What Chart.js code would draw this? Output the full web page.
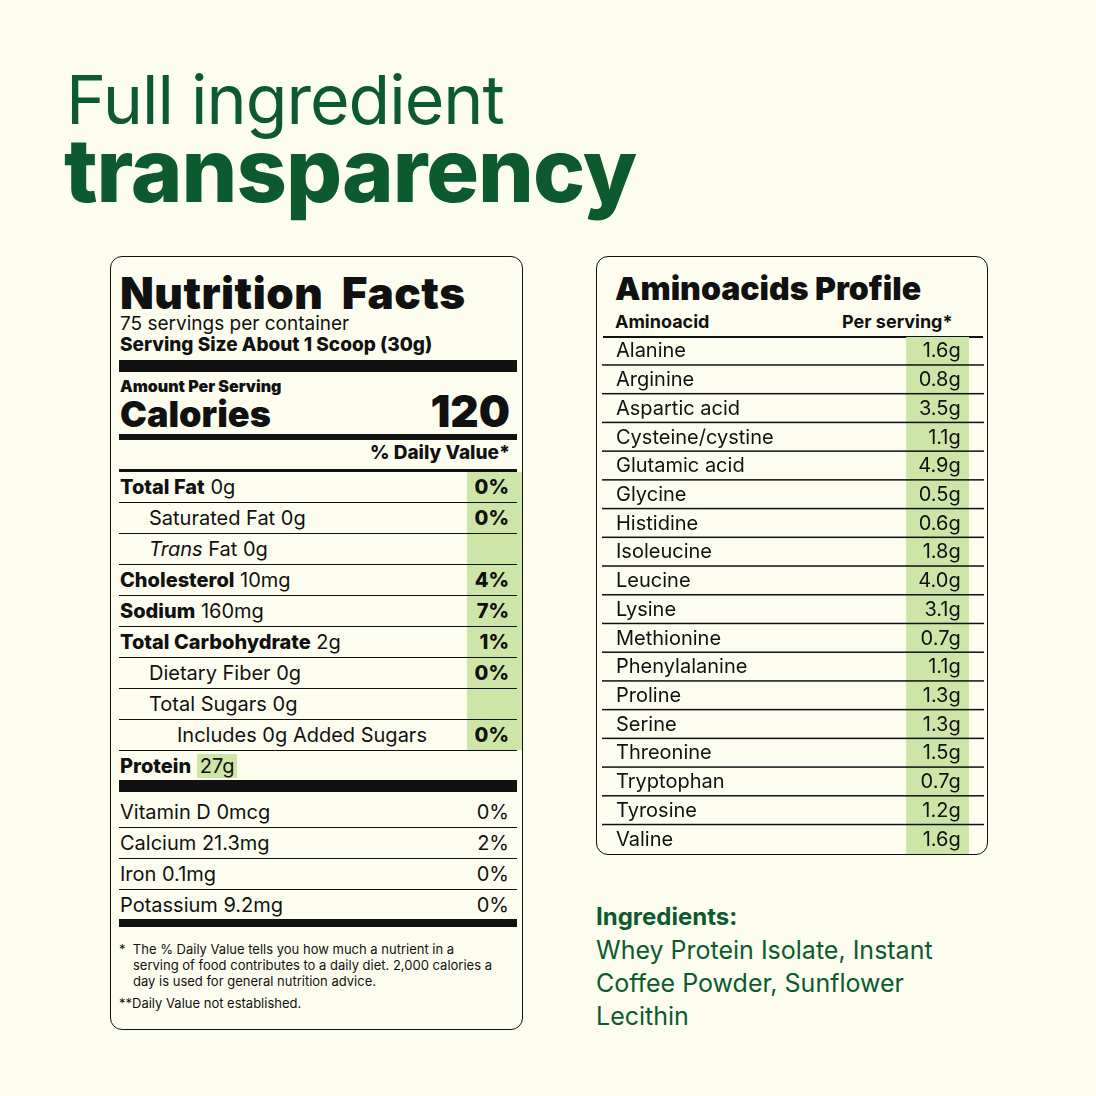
<!DOCTYPE html>
<html>
<head>
<meta charset="utf-8">
<script src="https://cdn.jsdelivr.net/npm/chart.js@4"></script>
<style>
  body { margin:0; background:#fcfdef; font-family: Inter, "Noto Sans", sans-serif; color:#111; }
  #page { position:relative; width:1096px; height:1096px; overflow:hidden; }
  .green { color:#0d5a2e; }
  .abs { position:absolute; line-height:1.1; }
  .box { position:absolute; border:1.5px solid #111; border-radius:12px; box-sizing:border-box; }
  .row { position:absolute; left:8px; width:398px; height:31px; border-bottom:1.5px solid #111; font-size:20px; line-height:31px; box-sizing:border-box; }
  .row b { font-weight:800; }
  .row .dv { position:absolute; right:0; top:0; width:54px; height:30px; text-align:right; padding-right:8px; box-sizing:border-box; font-weight:800; }
  .bar { position:absolute; left:8px; width:398px; background:#111; }
</style>
</head>
<body>
<div id="page">
  <div class="abs green" style="left:66px;top:62px;font-size:68px;font-weight:400;letter-spacing:-1px;">Full ingredient</div>
  <div class="abs green" style="left:64px;top:122px;font-size:88px;font-weight:800;letter-spacing:-1px;">transparency</div>

  <!-- Nutrition facts panel -->
  <div class="box" id="nf" style="left:110px;top:256px;width:413px;height:774px;"></div>

  <!-- Amino acids panel -->
  <div class="box" style="left:596px;top:256px;width:392px;height:599px;">
    <div class="abs" style="left:18px;top:14px;font-size:32px;font-weight:900;">Aminoacids Profile</div>
    <div class="abs" style="left:18px;top:55px;font-size:18px;font-weight:700;">Aminoacid</div>
    <div class="abs" style="left:245px;top:55px;font-size:18px;font-weight:700;">Per serving*</div>
    <div class="abs" style="left:6px;top:79px;width:380px;height:1.5px;background:#111;"></div>
  </div>
  <div class="abs" style="left:602px;top:337px;width:382px;height:517px;"><canvas id="amino"></canvas></div>

  <div class="abs green" style="left:596px;top:904px;font-size:24px;font-weight:700;">Ingredients:</div>
  <div class="abs green" style="left:596px;top:934px;font-size:25px;line-height:33px;width:380px;">Whey Protein Isolate, Instant Coffee Powder, Sunflower Lecithin</div>
</div>
<script>
// amino acid profile data
const aminoNames = ['Alanine','Arginine','Aspartic acid','Cysteine/cystine','Glutamic acid','Glycine','Histidine','Isoleucine','Leucine','Lysine','Methionine','Phenylalanine','Proline','Serine','Threonine','Tryptophan','Tyrosine','Valine'];
const aminoGrams = [1.6, 0.8, 3.5, 1.1, 4.9, 0.5, 0.6, 1.8, 4.0, 3.1, 0.7, 1.1, 1.3, 1.3, 1.5, 0.7, 1.2, 1.6];

// nutrition facts rows: [bold label, plain label, indent level, % daily value]
const nfLabels = [
  ['Total Fat', ' 0g', 0, '0%'],
  ['', 'Saturated Fat 0g', 1, '0%'],
  ['', '<i>Trans</i> Fat 0g', 1, ''],
  ['Cholesterol', ' 10mg', 0, '4%'],
  ['Sodium', ' 160mg', 0, '7%'],
  ['Total Carbohydrate', ' 2g', 0, '1%'],
  ['', 'Dietary Fiber 0g', 1, '0%'],
  ['', 'Total Sugars 0g', 1, ''],
  ['', 'Includes 0g Added Sugars', 2, '0%']
];
const vitLabels = ['Vitamin D 0mcg', 'Calcium 21.3mg', 'Iron 0.1mg', 'Potassium 9.2mg'];
const vitValues = ['0%', '2%', '0%', '0%'];

// build the nutrition panel
const nf = document.getElementById('nf');
let html = `
  <div class="abs" style="left:9px;top:12px;font-size:44px;font-weight:900;letter-spacing:0.5px;">Nutrition&nbsp; Facts</div>
  <div class="abs" style="left:9px;top:57px;font-size:19px;">75 servings per container</div>
  <div class="abs" style="left:9px;top:78px;font-size:19px;font-weight:800;">Serving Size About 1 Scoop (30g)</div>
  <div class="bar" style="top:103px;height:12px;"></div>
  <div class="abs" style="left:9px;top:121px;font-size:16px;font-weight:900;">Amount Per Serving</div>
  <div class="abs" style="left:9px;top:138px;font-size:36px;font-weight:900;">Calories</div>
  <div class="abs" style="right:12px;top:130px;font-size:44px;font-weight:900;">120</div>
  <div class="bar" style="top:177px;height:6px;"></div>
  <div class="abs" style="right:12px;top:186px;font-size:19px;font-weight:800;">% Daily Value*</div>
  <div class="bar" style="top:212px;height:3px;"></div>
  <div class="abs" style="left:356px;top:215px;width:55px;height:278px;background:#cde6a8;"></div>`;
nfLabels.forEach((r, i) => {
  const pad = [1, 30, 58][r[2]];
  html += `<div class="row" style="top:${215 + i * 31}px;padding-left:${pad}px;"><b>${r[0]}</b>${r[1]}<span class="dv">${r[3]}</span></div>`;
});
html += `
  <div class="abs" style="left:9px;top:494px;font-size:20px;line-height:30px;"><b style="font-weight:800">Protein</b> <span style="background:#cde6a8;padding:0 3px;">27g</span></div>
  <div class="bar" style="top:523px;height:12px;"></div>`;
vitLabels.forEach((v, i) => {
  html += `<div class="row" style="top:${540 + i * 31}px;padding-left:1px;">${v}<span class="dv" style="font-weight:400">${vitValues[i]}</span></div>`;
});
html += `
  <div class="bar" style="top:662px;height:8px;"></div>
  <div class="abs" style="left:8px;top:684px;width:370px;font-size:13px;line-height:16px;padding-left:14px;text-indent:-14px;">*&nbsp; The % Daily Value tells you how much a nutrient in a serving of food contributes to a daily diet. 2,000 calories a day is used for general nutrition advice.</div>
  <div class="abs" style="left:8px;top:739px;font-size:13px;">**Daily Value not established.</div>`;
nf.innerHTML = html;

// amino acid table drawn through Chart.js category scale
const rowPlugin = {
  id: 'rowPlugin',
  afterDatasetsDraw(chart) {
    const c = chart.ctx, y = chart.scales.y, area = chart.chartArea;
    const meta = chart.getDatasetMeta(0);
    c.save();
    c.font = '20px Inter';
    c.textBaseline = 'middle';
    aminoNames.forEach((name, i) => {
      const py = y.getPixelForValue(i);
      const half = (y.getPixelForValue(1) - y.getPixelForValue(0)) / 2;
      c.fillStyle = '#111';
      c.textAlign = 'left';
      c.fillText(name, area.left + 14, py);
      c.textAlign = 'right';
      c.fillText(aminoGrams[i].toFixed(1) + 'g', meta.data[i].x - 8, py);
      if (i < aminoNames.length - 1) c.fillRect(area.left, py + half - 1.5, area.right - area.left, 1.5);
    });
    c.restore();
  }
};
new Chart(document.getElementById('amino'), {
  type: 'bar',
  data: {
    labels: aminoNames,
    datasets: [{ data: aminoNames.map(() => [0.797, 0.96]), backgroundColor: '#cde6a8', barPercentage: 1, categoryPercentage: 1 }]
  },
  options: {
    indexAxis: 'y',
    responsive: true,
    maintainAspectRatio: false,
    animation: false,
    layout: { padding: 0 },
    plugins: { legend: { display: false }, tooltip: { enabled: false } },
    scales: {
      x: { display: false, min: 0, max: 1 },
      y: { display: false }
    }
  },
  plugins: [rowPlugin]
});
</script>
</body>
</html>
